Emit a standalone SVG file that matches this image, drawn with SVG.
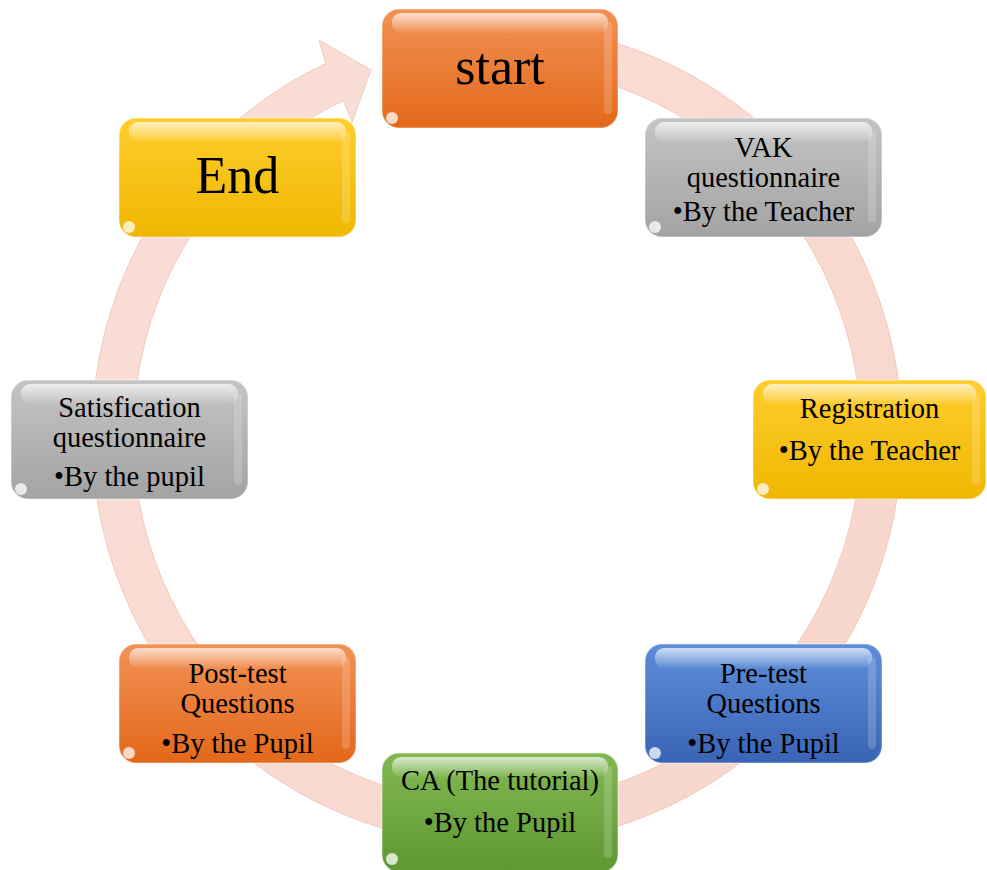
<svg xmlns="http://www.w3.org/2000/svg" width="987" height="870" viewBox="0 0 987 870">
  <defs>
    <linearGradient id="gOrange" x1="0" y1="0" x2="0" y2="1">
      <stop offset="0" stop-color="#F29155"/>
      <stop offset="1" stop-color="#E3681A"/>
    </linearGradient>
    <linearGradient id="gYellow" x1="0" y1="0" x2="0" y2="1">
      <stop offset="0" stop-color="#FFCD2E"/>
      <stop offset="1" stop-color="#EFB700"/>
    </linearGradient>
    <linearGradient id="gGray" x1="0" y1="0" x2="0" y2="1">
      <stop offset="0" stop-color="#C4C4C4"/>
      <stop offset="1" stop-color="#A3A3A3"/>
    </linearGradient>
    <linearGradient id="gBlue" x1="0" y1="0" x2="0" y2="1">
      <stop offset="0" stop-color="#5E8ED8"/>
      <stop offset="1" stop-color="#3A64B6"/>
    </linearGradient>
    <linearGradient id="gGreen" x1="0" y1="0" x2="0" y2="1">
      <stop offset="0" stop-color="#82B852"/>
      <stop offset="1" stop-color="#5E9833"/>
    </linearGradient>
    <linearGradient id="gShine" x1="0" y1="0" x2="0" y2="1">
      <stop offset="0" stop-color="#FFFFFF" stop-opacity="0.7"/>
      <stop offset="1" stop-color="#FFFFFF" stop-opacity="0.05"/>
    </linearGradient>
    <linearGradient id="gRing" x1="0" y1="0" x2="1" y2="1">
      <stop offset="0" stop-color="#FADFD7"/>
      <stop offset="1" stop-color="#F7D5CB"/>
    </linearGradient>
    <style>
      .box { stroke: #FFFFFF; stroke-opacity: 0.35; stroke-width: 1.5; }
      .shine { fill: url(#gShine); }
      .edge { fill: #FFFFFF; opacity: 0.18; }
      .glint { fill: #FFFFFF; opacity: 0.75; }
      .t { font-family: "Liberation Serif", "Times New Roman", serif; font-size: 28.5px; fill: #000000; text-anchor: middle; }
      .big { font-family: "Liberation Serif", "Times New Roman", serif; font-size: 52px; fill: #000000; text-anchor: middle; }
      .orange { fill: url(#gOrange); }
      .yellow { fill: url(#gYellow); }
      .gray { fill: url(#gGray); }
      .blue { fill: url(#gBlue); }
      .green { fill: url(#gGreen); }
    </style>
  </defs>
  <rect width="987" height="870" fill="#FFFFFF"/>

  <g id="connectors">
    <path d="M 563.1 30.5 A 405 410 0 1 1 325.8 63.4 L 319 40 L 371 70 L 352 122 L 343.2 100.6 A 364 369 0 1 0 556.4 70.9 Z" fill="url(#gRing)" stroke="#F3C9BD" stroke-width="1"/>
  </g>

  <g id="start">
    <rect class="box orange" x="382" y="9" width="236" height="119" rx="17"/>
    <rect class="shine" x="392" y="13" width="216" height="20" rx="9"/>
    <rect class="edge" x="604" y="22" width="8" height="92" rx="4"/>
    <circle class="glint" cx="392" cy="118" r="6"/>
    <text class="big" x="500" y="84">start</text>
  </g>

  <g id="vak">
    <rect class="box gray" x="645" y="118" width="237" height="119" rx="17"/>
    <rect class="shine" x="655" y="122" width="217" height="20" rx="9"/>
    <rect class="edge" x="868" y="131" width="8" height="92" rx="4"/>
    <circle class="glint" cx="655" cy="227" r="6"/>
    <text class="t" x="763.5" y="157">VAK</text>
    <text class="t" x="763.5" y="187">questionnaire</text>
    <text class="t" x="763.5" y="221">•By the Teacher</text>
  </g>

  <g id="registration">
    <rect class="box yellow" x="753" y="380" width="233" height="119" rx="17"/>
    <rect class="shine" x="763" y="384" width="213" height="20" rx="9"/>
    <rect class="edge" x="972" y="393" width="8" height="92" rx="4"/>
    <circle class="glint" cx="763" cy="489" r="6"/>
    <text class="t" x="869.5" y="418">Registration</text>
    <text class="t" x="869.5" y="460">•By the Teacher</text>
  </g>

  <g id="pretest">
    <rect class="box blue" x="645" y="644" width="237" height="119" rx="17"/>
    <rect class="shine" x="655" y="648" width="217" height="20" rx="9"/>
    <rect class="edge" x="868" y="657" width="8" height="92" rx="4"/>
    <circle class="glint" cx="655" cy="753" r="6"/>
    <text class="t" x="763.5" y="683">Pre-test</text>
    <text class="t" x="763.5" y="713">Questions</text>
    <text class="t" x="763.5" y="753">•By the Pupil</text>
  </g>

  <g id="ca">
    <rect class="box green" x="382" y="753" width="236" height="119" rx="17"/>
    <rect class="shine" x="392" y="757" width="216" height="20" rx="9"/>
    <rect class="edge" x="604" y="766" width="8" height="92" rx="4"/>
    <circle class="glint" cx="392" cy="859" r="6"/>
    <text class="t" x="500" y="790">CA (The tutorial)</text>
    <text class="t" x="500" y="832">•By the Pupil</text>
  </g>

  <g id="posttest">
    <rect class="box orange" x="119" y="644" width="237" height="119" rx="17"/>
    <rect class="shine" x="129" y="648" width="217" height="20" rx="9"/>
    <rect class="edge" x="342" y="657" width="8" height="92" rx="4"/>
    <circle class="glint" cx="129" cy="753" r="6"/>
    <text class="t" x="237.5" y="683">Post-test</text>
    <text class="t" x="237.5" y="713">Questions</text>
    <text class="t" x="237.5" y="753">•By the Pupil</text>
  </g>

  <g id="satisfication">
    <rect class="box gray" x="11" y="380" width="237" height="119" rx="17"/>
    <rect class="shine" x="21" y="384" width="217" height="20" rx="9"/>
    <rect class="edge" x="234" y="393" width="8" height="92" rx="4"/>
    <circle class="glint" cx="21" cy="489" r="6"/>
    <text class="t" x="129.5" y="417">Satisfication</text>
    <text class="t" x="129.5" y="447">questionnaire</text>
    <text class="t" x="129.5" y="486">•By the pupil</text>
  </g>

  <g id="end">
    <rect class="box yellow" x="119" y="118" width="237" height="119" rx="17"/>
    <rect class="shine" x="129" y="122" width="217" height="20" rx="9"/>
    <rect class="edge" x="342" y="131" width="8" height="92" rx="4"/>
    <circle class="glint" cx="129" cy="227" r="6"/>
    <text class="big" x="237.5" y="193">End</text>
  </g>
</svg>
